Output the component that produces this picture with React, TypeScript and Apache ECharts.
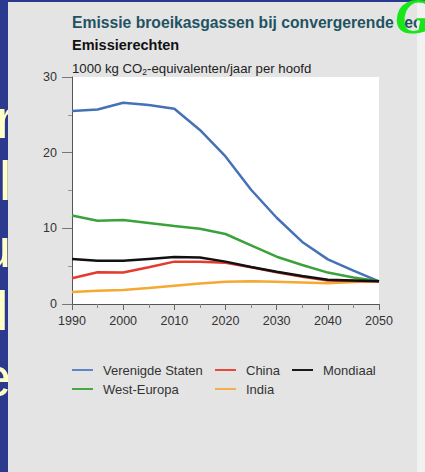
import React, { useEffect, useRef } from "react";
import * as echarts from "echarts";

const years = [1990, 1995, 2000, 2005, 2010, 2015, 2020, 2025, 2030, 2035, 2040, 2045, 2050];
const verenigdeStaten = [25.5, 25.7, 26.6, 26.3, 25.8, 23.0, 19.5, 15.1, 11.4, 8.2, 5.9, 4.4, 3.0];
const westEuropa = [11.7, 11.0, 11.1, 10.7, 10.3, 9.95, 9.25, 7.75, 6.25, 5.15, 4.15, 3.5, 3.0];
const china = [3.4, 4.2, 4.15, 4.85, 5.6, 5.6, 5.45, 4.85, 4.2, 3.6, 3.1, 3.05, 3.0];
const india = [1.6, 1.75, 1.85, 2.1, 2.4, 2.7, 2.95, 3.0, 2.95, 2.85, 2.75, 2.9, 3.0];
const mondiaal = [5.95, 5.7, 5.7, 5.95, 6.2, 6.15, 5.6, 4.9, 4.27, 3.7, 3.2, 3.1, 3.0];

const titleText = "Emissie broeikasgassen bij convergerende rechten";
const subtitleText = "Emissierechten";
const unitText = "1000 kg CO{sub|2}-equivalenten/jaar per hoofd";
const slideLetters = ["r", "l", "u", "la", "e"];

const FONT = '"Liberation Sans", Arial, sans-serif';

const seriesDefs = [
  { name: "Verenigde Staten", values: verenigdeStaten, color: "#4571B6", legend: "#5E86C6" },
  { name: "West-Europa", values: westEuropa, color: "#3BA23B", legend: "#47A847" },
  { name: "India", values: india, color: "#F5A832", legend: "#F3B04A" },
  { name: "China", values: china, color: "#E53B2E", legend: "#E8473C" },
  { name: "Mondiaal", values: mondiaal, color: "#111111", legend: "#1A1A1A" },
];

const letterPos = [
  { x: -4, base: 138 },
  { x: -1, base: 200 },
  { x: -20, base: 267 },
  { x: -4, base: 330 },
  { x: -20, base: 396 },
];

export default function App() {
  const ref = useRef<HTMLDivElement>(null);
  useEffect(() => {
    if (!ref.current) return;
    const chart = echarts.init(ref.current, null, { renderer: "svg" });
    const legendCommon = {
      orient: "vertical" as const,
      icon: "rect",
      itemWidth: 21,
      itemHeight: 2,
      itemGap: 5,
      padding: 0,
      selectedMode: false,
      textStyle: { fontFamily: FONT, fontSize: 13, color: "#333", lineHeight: 14, padding: [0, 0, 0, 5] },
    };
    chart.setOption({
      animation: false,
      backgroundColor: "transparent",
      title: [
        {
          text: titleText,
          left: 72,
          top: 14,
          padding: 0,
          z: 6,
          textStyle: { fontFamily: FONT, fontSize: 15.7, fontWeight: "bold", color: "#1F5361" },
        },
        {
          text: subtitleText,
          left: 72,
          top: 37,
          padding: 0,
          z: 6,
          textStyle: { fontFamily: FONT, fontSize: 14.5, fontWeight: "bold", color: "#111" },
        },
      ],
      legend: [
        { ...legendCommon, left: 72, top: 363, data: [
          { name: "Verenigde Staten", itemStyle: { color: seriesDefs[0].legend } },
          { name: "West-Europa", itemStyle: { color: seriesDefs[1].legend } },
        ] },
        { ...legendCommon, left: 215, top: 363, data: [
          { name: "China", itemStyle: { color: seriesDefs[3].legend } },
          { name: "India", itemStyle: { color: seriesDefs[2].legend } },
        ] },
        { ...legendCommon, left: 292, top: 363, data: [
          { name: "Mondiaal", itemStyle: { color: seriesDefs[4].legend } },
        ] },
      ],
      grid: {
        left: 72,
        top: 77,
        right: 46,
        bottom: 168,
        show: true,
        backgroundColor: "#FFFFFF",
        borderWidth: 0,
      },
      xAxis: {
        type: "value",
        min: 1990,
        max: 2050,
        interval: 10,
        axisLine: { show: true, lineStyle: { color: "#555", width: 1 } },
        axisTick: { show: true, length: 6, lineStyle: { color: "#666" } },
        minorTick: { show: true, splitNumber: 2, length: 4, lineStyle: { color: "#888" } },
        splitLine: { show: false },
        axisLabel: { fontFamily: FONT, fontSize: 12.5, color: "#333", margin: 10, formatter: (v: number) => String(v) },
      },
      yAxis: {
        type: "value",
        min: 0,
        max: 30,
        interval: 10,
        name: unitText,
        nameLocation: "end",
        nameGap: 1,
        nameTextStyle: {
          fontFamily: FONT,
          fontSize: 13.2,
          color: "#222",
          align: "left",
          rich: { sub: { fontSize: 8.5, verticalAlign: "bottom", fontFamily: FONT, color: "#222", padding: [6, 0, 0, 0] } },
        },
        axisLine: { show: true, lineStyle: { color: "#555", width: 1 } },
        axisTick: { show: true, length: 10, lineStyle: { color: "#777" } },
        minorTick: { show: true, splitNumber: 2, length: 4, lineStyle: { color: "#999" } },
        splitLine: { show: false },
        axisLabel: { fontFamily: FONT, fontSize: 12.5, color: "#333", margin: 15 },
      },
      series: seriesDefs.map((s) => ({
        name: s.name,
        type: "line",
        data: years.map((y, i) => [y, s.values[i]]),
        symbol: "none",
        lineStyle: { color: s.color, width: 2.5 },
        itemStyle: { color: s.color },
      })),
      graphic: [
        { type: "rect", z: -100, shape: { x: 8, y: 2, width: 409, height: 470 }, style: { fill: "#E4E4E4" } },
        { type: "rect", z: 100, shape: { x: 417, y: 2, width: 8, height: 470 }, style: { fill: "#F2F2F2" } },
        {
          type: "text",
          zlevel: 1,
          z: 300,
          style: {
            text: "G",
            x: 395,
            y: 16,
            fontSize: 51,
            fontWeight: "bold",
            fontStyle: "italic",
            fontFamily: '"Liberation Serif", "Times New Roman", serif',
            fill: "#19E619",
            verticalAlign: "middle",
          },
        },
      ],
    });
    return () => chart.dispose();
  }, []);
  return (
    <div style={{ position: "fixed", left: 0, top: 0, width: 425, height: 472, background: "#2B3A8E", overflow: "hidden" }}>
      {slideLetters.map((t, i) => (
        <span
          key={i}
          style={{
            position: "absolute",
            left: letterPos[i].x,
            top: letterPos[i].base - 51,
            fontFamily: FONT,
            fontSize: 56,
            lineHeight: "64px",
            color: "#FFFFC8",
            whiteSpace: "nowrap",
          }}
        >
          {t}
        </span>
      ))}
      <div ref={ref} style={{ position: "absolute", left: 0, top: 0, width: 425, height: 472 }} />
    </div>
  );
}
